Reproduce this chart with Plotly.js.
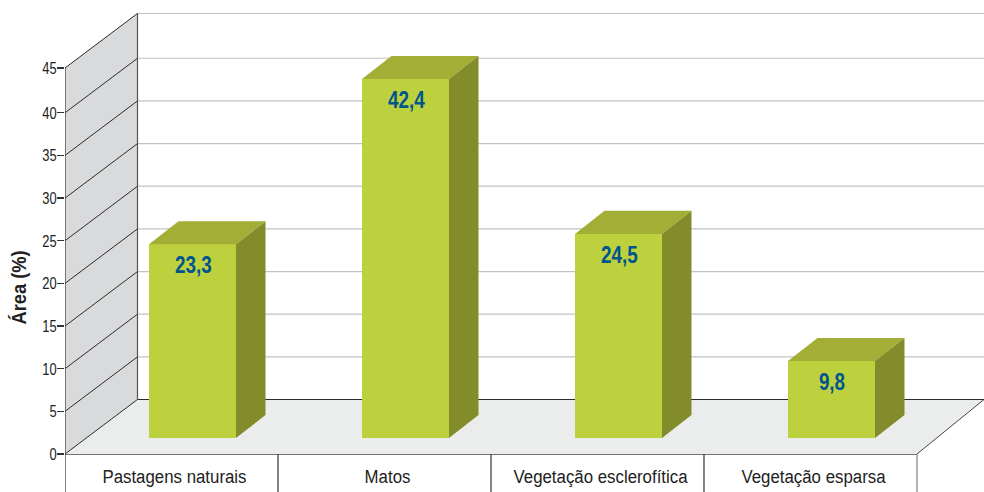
<!DOCTYPE html>
<html>
<head>
<meta charset="utf-8">
<script src="https://cdn.plot.ly/plotly-3.0.1.min.js"></script>
<style>html,body{margin:0;padding:0;background:#fff}</style>
</head>
<body>
<div id="chart" style="width:984px;height:492px"></div>
<script>
const categories = ["Pastagens naturais", "Matos", "Vegetação esclerofítica", "Vegetação esparsa"];
const values = [23.3, 42.4, 24.5, 9.8];
const valueLabels = ["23,3", "42,4", "24,5", "9,8"];
const yTicks = [0, 5, 10, 15, 20, 25, 30, 35, 40, 45];
const yTickPositions = [0, 5, 10, 15, 20, 25, 30, 35, 40, 45.25];
const axisTitle = "Área (%)";

const FONT = "'Liberation Sans',Arial,sans-serif";
const xMax = 4.8146, yMax = 53.22;
const wallDX = 0.3404, wallDY = 6.39;
const barShift = 0.0986, barW = 0.4085, barDX = 0.1385, barDY = 2.70;
const barFloor = 1.876, barLift = 0.96, barSlope = 1.014;
const topTick = yTickPositions[yTickPositions.length - 1];

const lefts = categories.map((c, i) => i + 1 + barShift - barW / 2);
const rights = lefts.map(l => l + barW);
const tops = values.map(v => v * barSlope + barLift);

const shapes = [];
const poly = (pts, fill) => shapes.push({
  type: "path", xref: "x", yref: "y", layer: "below", fillcolor: fill, line: {width: 0},
  path: "M" + pts.map(p => p.join(",")).join("L") + "Z"
});
const seg = (x0, y0, x1, y1, color, width, yref) => shapes.push({
  type: "line", xref: "x", yref: yref || "y", layer: "below", x0, y0, x1, y1, line: {color, width}
});

poly([[0.5, 0], [0.5, topTick], [0.5 + wallDX, topTick + wallDY], [0.5 + wallDX, wallDY]], "#d9dadc");
poly([[0.5, 0], [0.5 + wallDX, wallDY], [xMax, wallDY], [4.5, 0]], "#ebeded");
yTickPositions.forEach(v => {
  if (v > 0) seg(0.5 + wallDX, v + wallDY, xMax, v + wallDY, "#c2c2c2", 1.2);
  seg(0.5, v, 0.5 + wallDX, v + wallDY, "#2b2b2b", 1);
});
seg(0.5 + wallDX, wallDY, xMax, wallDY, "#2b2b2b", 1.2);
seg(0.5 + wallDX, wallDY, 0.5 + wallDX, topTick + wallDY, "#555", 1.2);
seg(0.5, 0, 0.5, topTick, "#333", 1.2);
seg(4.5, 0, xMax, wallDY, "#444", 1);
const belowAxis = -38 / 454;
seg(0.5, 0, 4.5, 0, "#444", 1.4, "paper");
[0.5, 1.5, 2.5, 3.5, 4.5].forEach((x, i) => seg(x, 0, x, belowAxis, i === 4 ? "#808080" : "#333", 1.2, "paper"));

const faces = (build) => {
  const xs = [], ys = [];
  lefts.forEach((l, i) => {
    build(l, rights[i], tops[i]).forEach(p => { xs.push(p[0]); ys.push(p[1]); });
    xs.push(null); ys.push(null);
  });
  return {x: xs, y: ys};
};
const top3d = faces((l, r, t) => [[l, t], [r, t], [r + barDX, t + barDY], [l + barDX, t + barDY], [l, t]]);
const side3d = faces((l, r, t) => [[r, barFloor], [r + barDX, barFloor + barDY], [r + barDX, t + barDY], [r, t], [r, barFloor]]);

const traces = [
  {type: "bar", x: categories.map((c, i) => i + 1 + barShift), y: tops.map(t => t - barFloor), base: barFloor,
   width: barW, marker: {color: "#bdd13f", line: {width: 0}}, hoverinfo: "skip", showlegend: false},
  {type: "scatter", mode: "none", x: top3d.x, y: top3d.y, fill: "toself", fillcolor: "#a3ae37", hoverinfo: "skip", showlegend: false},
  {type: "scatter", mode: "none", x: side3d.x, y: side3d.y, fill: "toself", fillcolor: "#838c2b", hoverinfo: "skip", showlegend: false}
];

const annotations = valueLabels.map((t, i) => ({
  x: i + 1 + barShift, y: tops[i], yshift: -21, xshift: 1, xref: "x", yref: "y", text: "<b>" + t + "</b>", showarrow: false,
  font: {family: FONT, size: 23, color: "#00558c"}
}));
annotations.push({
  xref: "paper", yref: "paper", x: -47 / 919, y: (454 - 288) / 454, xanchor: "center", yanchor: "middle",
  text: "<b>" + axisTitle + "</b>", textangle: -90, showarrow: false,
  font: {family: FONT, size: 21, color: "#222"}
});

const layout = {
  width: 984, height: 492, autosize: false,
  margin: {l: 65, r: 0, t: 0, b: 38, pad: 0},
  paper_bgcolor: "#fff", plot_bgcolor: "#fff",
  showlegend: false, bargap: 0,
  shapes, annotations,
  xaxis: {range: [0.5, xMax], tickmode: "array", tickvals: [1.014, 2.014, 3.014, 4.014], ticktext: categories,
          showgrid: false, zeroline: false, showline: false, ticks: "", ticklabelstandoff: 10, fixedrange: true,
          tickfont: {family: FONT, size: 18, color: "#222"}},
  yaxis: {range: [0, yMax], tickmode: "array", tickvals: yTickPositions, ticktext: yTicks.map(String),
          showgrid: false, zeroline: false, showline: false, ticks: "outside", ticklen: 7, tickwidth: 1.2, tickcolor: "#333",
          ticklabelstandoff: -3, fixedrange: true, tickfont: {family: FONT, size: 17, color: "#222"}}
};

const narrow = (els, factor) => els.forEach(t => {
  t.setAttribute("textLength", (t.getComputedTextLength() * factor).toFixed(2));
  t.setAttribute("lengthAdjust", "spacingAndGlyphs");
});
Plotly.newPlot("chart", traces, layout, {displayModeBar: false, staticPlot: true}).then(() => {
  narrow(document.querySelectorAll(".xtick text"), 0.935);
  narrow(document.querySelectorAll(".ytick text"), 0.76);
  const ann = Array.from(document.querySelectorAll(".annotation-text"));
  narrow(ann.slice(0, valueLabels.length), 0.82);
  narrow(ann.slice(valueLabels.length), 0.87);
});
</script>
</body>
</html>
